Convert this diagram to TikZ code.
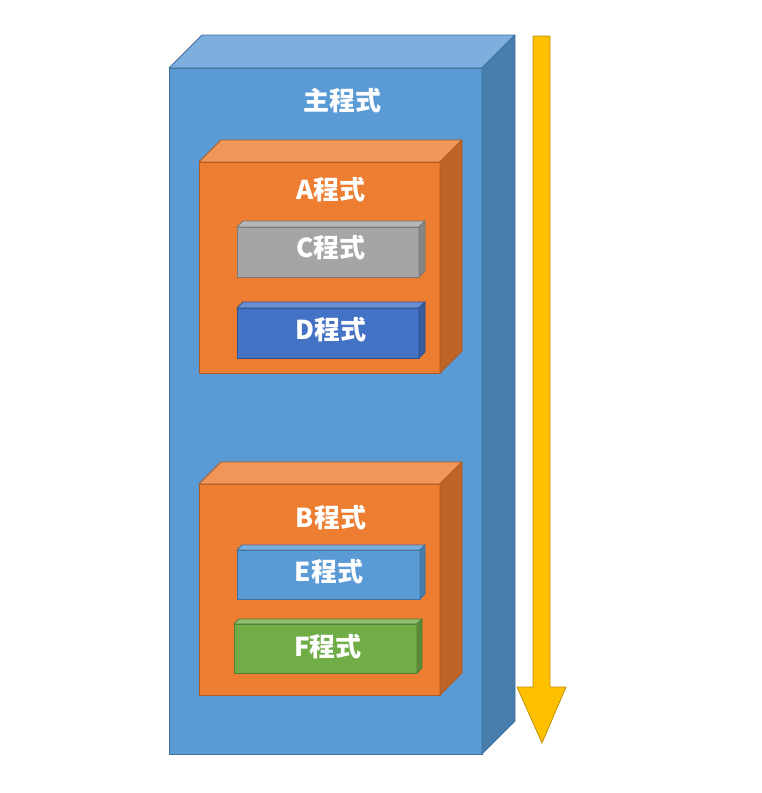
\documentclass[tikz,border=0pt]{standalone}
\usepackage{fontspec}
\setmainfont{Noto Sans CJK TC}
\definecolor{mainF}{HTML}{5B9BD5}\definecolor{mainT}{HTML}{7CAFDD}\definecolor{mainS}{HTML}{477DAD}\definecolor{mainL}{HTML}{41719C}
\definecolor{orF}{HTML}{ED7D31}\definecolor{orT}{HTML}{F0965A}\definecolor{orS}{HTML}{BE6426}\definecolor{orL}{HTML}{AE5A21}
\definecolor{grF}{HTML}{A5A5A5}\definecolor{grT}{HTML}{B7B7B7}\definecolor{grS}{HTML}{858585}\definecolor{grL}{HTML}{787878}
\definecolor{dbF}{HTML}{4472C4}\definecolor{dbT}{HTML}{6A8ED0}\definecolor{dbS}{HTML}{375B9D}\definecolor{dbL}{HTML}{2F528F}
\definecolor{gnF}{HTML}{70AD47}\definecolor{gnT}{HTML}{8CBD6C}\definecolor{gnS}{HTML}{5A8A39}\definecolor{gnL}{HTML}{507E32}
\definecolor{arF}{HTML}{FFC000}\definecolor{arL}{HTML}{BC8C00}
% \boxcube{name}{x1}{y1}{x2}{y2}{front}{top}{depth}{line}
\newcommand{\boxcube}[9]{%
  \node[frontface, fill=#6, draw=#9, minimum width={(#4-#2)*1pt}, minimum height={(#5-#3)*1pt}] (#1) at (#2,#3) {};
  \filldraw[fill=#7, draw=#9, line width=0.75pt, line join=round] (#1.north west) -- ++(#8,-#8) -- ($(#1.north east)+(#8,-#8)$) -- (#1.north east) -- cycle;
  \filldraw[fill=\sidecol, draw=#9, line width=0.75pt, line join=round] (#1.north east) -- ++(#8,-#8) -- ($(#1.south east)+(#8,-#8)$) -- (#1.south east) -- cycle;
}
\usetikzlibrary{calc}
\tikzset{
  frontface/.style={anchor=north west, inner sep=0pt, outer sep=0pt, line width=0.75pt},
  lbl/.style={text=white, font=\bfseries\fontsize{26}{30}\selectfont, inner sep=0pt},
}
\begin{document}
\begin{tikzpicture}[x=1pt,y=-1pt]
\useasboundingbox[fill=white] (0,0) rectangle (762,793);
% main
\def\sidecol{mainS}
\boxcube{main}{169}{68}{482}{754}{mainF}{mainT}{33}{mainL}
\node[lbl] (maint) at (342,101) {主程式};
% A
\def\sidecol{orS}
\boxcube{A}{199}{162}{440}{373}{orF}{orT}{22}{orL}
\node[lbl] (At) at (331,190) {A程式};
\def\sidecol{grS}
\boxcube{C}{237}{227}{419}{277}{grF}{grT}{6}{grL}
\node[lbl] (Ct) at (331,248) {C程式};
\def\sidecol{dbS}
\boxcube{D}{237}{308}{419}{358}{dbF}{dbT}{6}{dbL}
\node[lbl] (Dt) at (331,330) {D程式};
% B
\def\sidecol{orS}
\boxcube{B}{199}{484}{440}{695}{orF}{orT}{22}{orL}
\node[lbl] (Bt) at (331,518) {B程式};
\def\sidecol{mainS}
\boxcube{E}{237}{550}{420}{599}{mainF}{mainT}{5}{mainL}
\node[lbl] (Et) at (329,572) {E程式};
\def\sidecol{gnS}
\boxcube{F}{234}{624}{417}{673}{gnF}{gnT}{5}{gnL}
\node[lbl] (Ft) at (328,647) {F程式};
% arrow
\filldraw[fill=arF, draw=arL, line width=0.75pt, line join=miter]
  (533,36) -- (550,36) -- (550,687) -- (566,687) -- (542,743) -- (517,687) -- (533,687) -- cycle;
\end{tikzpicture}
\end{document}
